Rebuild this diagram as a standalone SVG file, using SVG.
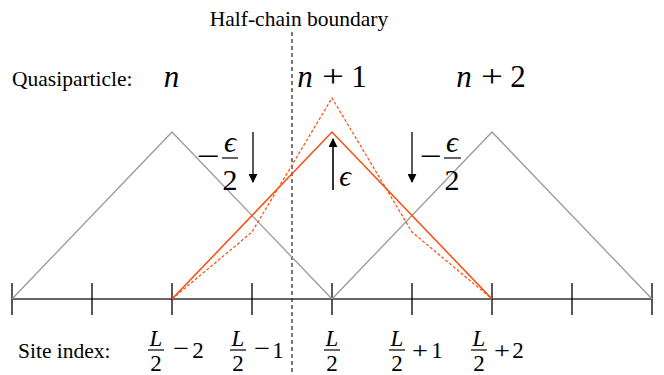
<svg xmlns="http://www.w3.org/2000/svg" width="664" height="375" viewBox="0 0 664 375">
<style>
text{font-family:"Liberation Serif","DejaVu Serif",serif;fill:#000}
.t{font-size:21.5px}
.m{font-style:italic}
.gray{fill:none;stroke:#999;stroke-width:1.3}
.or{fill:none;stroke:#ff4a0a;stroke-width:1.5}
.ord{fill:none;stroke:#ff4a0a;stroke-width:1.2;stroke-dasharray:3 2}
.axis{stroke:#333;stroke-width:1.5}
.tick{stroke:#000;stroke-width:1.3}
.bar{stroke:#000;stroke-width:1.2}
.arr{stroke:#000;stroke-width:1.3;fill:none}
</style>
<defs>
<marker id="ah" viewBox="0 0 10 10" refX="9" refY="5" markerWidth="9" markerHeight="9" markerUnits="userSpaceOnUse" orient="auto">
<path d="M0,0 L10,5 L0,10 Z" fill="#000"/>
</marker>
</defs>

<g id="boundary">
<line x1="292" y1="32" x2="292" y2="375" stroke="#333" stroke-width="1.3" stroke-dasharray="4 3"/>
<text class="t" x="299" y="26" text-anchor="middle">Half-chain boundary</text>
</g>

<g id="axis">
<line class="axis" x1="12" y1="299" x2="652" y2="299"/>
<g class="tick">
<line x1="12" y1="283" x2="12" y2="315"/>
<line x1="92" y1="283" x2="92" y2="315"/>
<line x1="172" y1="283" x2="172" y2="315"/>
<line x1="252" y1="283" x2="252" y2="315"/>
<line x1="332" y1="283" x2="332" y2="315"/>
<line x1="412" y1="283" x2="412" y2="315"/>
<line x1="492" y1="283" x2="492" y2="315"/>
<line x1="572" y1="283" x2="572" y2="315"/>
<line x1="652" y1="283" x2="652" y2="315"/>
</g>
</g>

<g id="quasiparticles">
<polyline class="gray" points="12,299 172,132 332,299"/>
<polyline class="gray" points="332,299 492,132 652,299"/>
<polyline class="or" points="172,299 332,132 492,299"/>
<polyline class="ord" points="172,299 252,232 332,98 412,232 492,299"/>
</g>

<g id="connectors">
<line class="arr" x1="253" y1="132" x2="253" y2="182" marker-end="url(#ah)"/>
<line class="arr" x1="412" y1="132" x2="412" y2="182" marker-end="url(#ah)"/>
<line x1="333" y1="190" x2="333" y2="139" stroke="#333" stroke-width="2" marker-end="url(#ah)"/>
</g>

<g id="labels-top" font-size="31">
<text class="t" x="12" y="86">Quasiparticle:</text>
<text class="m" x="171.5" y="87" text-anchor="middle">n</text>
<text class="m" x="305" y="87" text-anchor="middle">n</text>
<text x="333" y="87" text-anchor="middle" textLength="22" lengthAdjust="spacingAndGlyphs">+</text>
<text x="359" y="87" text-anchor="middle">1</text>
<text class="m" x="464" y="87" text-anchor="middle">n</text>
<text x="492" y="87" text-anchor="middle" textLength="22" lengthAdjust="spacingAndGlyphs">+</text>
<text x="518" y="87" text-anchor="middle">2</text>
</g>

<g id="label-left-eps" font-size="30">
<text x="197" y="166" textLength="23" lengthAdjust="spacingAndGlyphs">−</text>
<text class="m" x="230" y="152" text-anchor="middle">ϵ</text>
<line class="bar" x1="222" y1="158" x2="238" y2="158"/>
<text x="230" y="190" text-anchor="middle">2</text>
</g>

<g id="label-right-eps" font-size="30">
<text x="420" y="166" textLength="22" lengthAdjust="spacingAndGlyphs">−</text>
<text class="m" x="452" y="152" text-anchor="middle">ϵ</text>
<line class="bar" x1="444" y1="158" x2="461" y2="158"/>
<text x="452" y="190" text-anchor="middle">2</text>
</g>

<g id="label-center-eps" font-size="29">
<text class="m" x="345" y="186" text-anchor="middle">ϵ</text>
</g>

<g id="labels-bottom" font-size="23">
<text class="t" x="18" y="358">Site index:</text>
<text class="m" x="156" y="346" text-anchor="middle">L</text>
<line class="bar" x1="148" y1="350" x2="164" y2="350"/>
<text x="156" y="371" text-anchor="middle">2</text>
<text x="181" y="356" text-anchor="middle" textLength="16" lengthAdjust="spacingAndGlyphs">−</text>
<text x="198" y="358" text-anchor="middle">2</text>

<text class="m" x="238" y="346" text-anchor="middle">L</text>
<line class="bar" x1="230" y1="350" x2="246" y2="350"/>
<text x="238" y="371" text-anchor="middle">2</text>
<text x="262" y="356" text-anchor="middle" textLength="16" lengthAdjust="spacingAndGlyphs">−</text>
<text x="278" y="358" text-anchor="middle">1</text>

<text class="m" x="332" y="346" text-anchor="middle">L</text>
<line class="bar" x1="324" y1="350" x2="340" y2="350"/>
<text x="332" y="371" text-anchor="middle">2</text>

<text class="m" x="397" y="346" text-anchor="middle">L</text>
<line class="bar" x1="389" y1="350" x2="405" y2="350"/>
<text x="397" y="371" text-anchor="middle">2</text>
<text x="420" y="358" text-anchor="middle" textLength="16" lengthAdjust="spacingAndGlyphs">+</text>
<text x="437" y="358" text-anchor="middle">1</text>

<text class="m" x="479" y="346" text-anchor="middle">L</text>
<line class="bar" x1="471" y1="350" x2="487" y2="350"/>
<text x="479" y="371" text-anchor="middle">2</text>
<text x="502" y="358" text-anchor="middle" textLength="16" lengthAdjust="spacingAndGlyphs">+</text>
<text x="518" y="358" text-anchor="middle">2</text>
</g>
</svg>
